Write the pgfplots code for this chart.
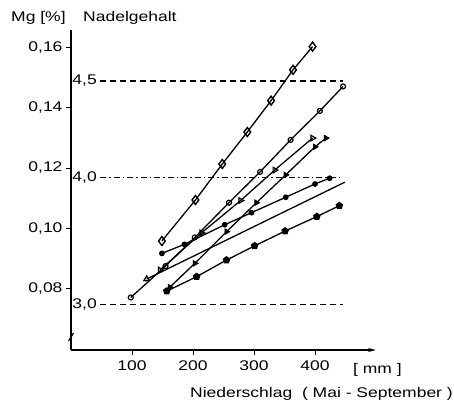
\documentclass[border=0pt]{standalone}
\usepackage{fontspec}
\setmainfont{Liberation Sans}[FakeStretch=1.25]
\usepackage{pgfplots}
\pgfplotsset{compat=1.18}
\usetikzlibrary{arrows.meta}

\newcommand{\lab}{\fontsize{14}{16}\selectfont}

\begin{document}
\begin{tikzpicture}[font=\lab]
\useasboundingbox (0,0) rectangle (454pt,405pt);

\begin{axis}[
    at={(71pt,55pt)}, anchor=south west,
    scale only axis, width=305pt, height=320pt,
    xmin=0, xmax=500, ymin=0.0597, ymax=0.1657,
    axis x line=bottom, axis y line=left,
    x axis line style={line width=1.2pt, -{Stealth[length=8pt,width=4pt]}},
    y axis line style={line width=1.2pt, -},
    xtick={100,200,300,400},
    ytick={0.08,0.10,0.12,0.14,0.16},
    tick align=outside,
    major tick length=5pt,
    tick style={black, line width=0.9pt},
    ticklabel style={font=\lab},
    xticklabel style={/pgf/number format/1000 sep={}, yshift=-2pt},
    yticklabel style={/pgf/number format/.cd, use comma, fixed, precision=2, fixed zerofill, 1000 sep={}},
    /pgf/number format/assume math mode=true,
    clip=false,
]

% reference levels
\addplot[black, line width=1.1pt, dash pattern=on 6pt off 4pt] coordinates {(48,0.1488)(446,0.1488)};
\addplot[black, line width=1.1pt, dash pattern=on 6pt off 3pt on 1.5pt off 3pt] coordinates {(48,0.1167)(446,0.1167)};
\addplot[black, line width=1.1pt, dash pattern=on 6pt off 4pt] coordinates {(48,0.0747)(446,0.0747)};
\node[anchor=west, inner sep=0pt] at (axis cs:2,0.1488) {4,5};
\node[anchor=west, inner sep=0pt] at (axis cs:2,0.1167) {4,0};
\node[anchor=west, inner sep=0pt] at (axis cs:2,0.0747) {3,0};

% series
\addplot[black, line width=1.3pt, mark=diamond, mark size=4.5pt, mark options={fill=white, line width=1.4pt}]
    coordinates {(149,0.0958)(204,0.1094)(248,0.1213)(289,0.1319)(328,0.1423)(364,0.1525)(396,0.1602)};
\addplot[black, line width=1.3pt, mark=o, mark size=2.5pt, mark options={fill=white, line width=1.2pt}]
    coordinates {(98,0.0771)(155,0.0875)(203,0.0970)(259,0.1085)(310,0.1187)(360,0.1293)(408,0.1389)(446,0.1470)};
\addplot[black, line width=1.3pt, mark=triangle, mark size=3.2pt, mark options={fill=white, line width=1.2pt, rotate=-90}]
    coordinates {(146,0.0862)(214,0.0985)(278,0.1092)(334,0.1193)(396,0.1299)};
\addplot[black, line width=1.3pt, mark=triangle*, mark size=3.2pt, mark options={line width=0.8pt, rotate=-90}]
    coordinates {(162,0.0805)(203,0.0884)(255,0.0989)(304,0.1085)(352,0.1177)(400,0.1270)(418,0.1299)};
\addplot[black, line width=1.3pt, mark=*, mark size=2.2pt]
    coordinates {(149,0.0917)(186,0.0947)(252,0.1012)(296,0.1052)(352,0.1103)(400,0.1147)(424,0.1166)};
\addplot[black, line width=1.3pt, mark=triangle, mark size=3.2pt, mark indices={1}, mark options={line width=1.2pt}]
    coordinates {(124,0.0832)(449,0.1153)};
\addplot[black, line width=1.3pt, mark=pentagon*, mark size=3.2pt]
    coordinates {(157,0.0792)(206,0.0840)(255,0.0895)(301,0.0942)(351,0.0991)(403,0.1039)(440,0.1075)};

% axis break
\draw[line width=1.2pt] (axis cs:0,0.064) ++(-2.5pt,-4pt) -- ++(5pt,8pt);
\end{axis}

\node[anchor=base west, inner sep=0pt] at (11pt,383pt) {Mg [\%]};
\node[anchor=base west, inner sep=0pt] at (83pt,383pt) {Nadelgehalt};
\node[anchor=base west, inner sep=0pt] at (353pt,32pt) {[ mm ]};
\node[anchor=base west, inner sep=0pt] at (190pt,8pt) {Niederschlag \ ( Mai - September )};
\end{tikzpicture}
\end{document}
